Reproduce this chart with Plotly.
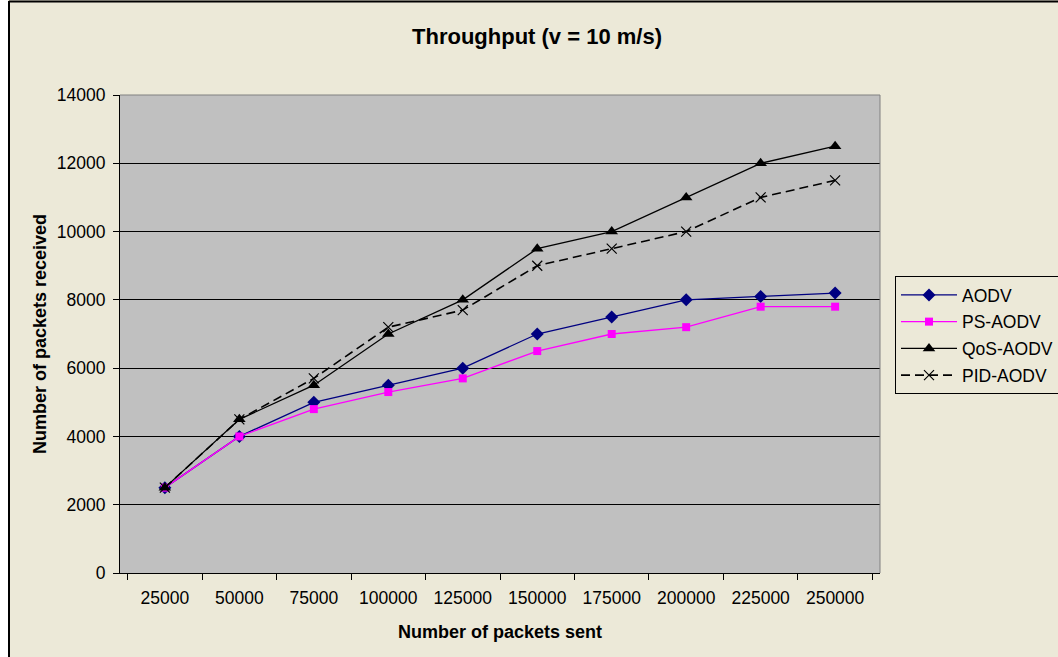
import plotly.graph_objects as go

# Packets sent (category labels on the x axis)
packets_sent = ["25000", "50000", "75000", "100000", "125000",
                "150000", "175000", "200000", "225000", "250000"]

# Packets received per protocol
aodv = [2500, 4000, 5000, 5500, 6000, 7000, 7500, 8000, 8100, 8200]
ps_aodv = [2500, 4000, 4800, 5300, 5700, 6500, 7000, 7200, 7800, 7800]
qos_aodv = [2500, 4500, 5500, 7000, 8000, 9500, 10000, 11000, 12000, 12500]
pid_aodv = [2500, 4500, 5700, 7200, 7700, 9000, 9500, 10000, 11000, 11500]

y_ticks = list(range(0, 14001, 2000))
y_tick_labels = [str(v) for v in y_ticks]

FONT = "Liberation Sans, Arial, sans-serif"
W, H = 1058, 657
ML, MR, MT, MB = 120, 178, 95, 84
PW, PH = W - ML - MR, H - MT - MB


def px_x(px):
    return (px - ML) / PW


def px_y(py):
    return (H - MB - py) / PH


fig = go.Figure()

fig.add_trace(go.Scatter(
    x=packets_sent, y=aodv, name="AODV", mode="lines+markers",
    line=dict(color="#000080", width=1.3),
    marker=dict(symbol="diamond", size=10, color="#000080"),
    legendgroup="a"))
fig.add_trace(go.Scatter(
    x=packets_sent, y=ps_aodv, name="PS-AODV", mode="lines+markers",
    line=dict(color="#FF00FF", width=1.3),
    marker=dict(symbol="square", size=8, color="#FF00FF"),
    legendgroup="b"))
fig.add_trace(go.Scatter(
    x=packets_sent, y=qos_aodv, name="QoS-AODV", mode="lines+markers",
    line=dict(color="#000000", width=1.3),
    marker=dict(symbol="triangle-up", size=11, color="#000000"),
    legendgroup="c"))
fig.add_trace(go.Scatter(
    x=packets_sent, y=pid_aodv, name="PID-AODV", mode="lines+markers",
    line=dict(color="#000000", width=1.6, dash="9px,5px"),
    marker=dict(symbol="x-thin-open", size=10,
                line=dict(color="#000000", width=1.2)),
    legendgroup="d"))

fig.update_layout(
    width=W, height=H,
    margin=dict(l=ML, r=MR, t=MT, b=MB, autoexpand=False),
    paper_bgcolor="#ECE9D8",
    plot_bgcolor="#C0C0C0",
    font=dict(family=FONT, size=17, color="#000000"),
    title=dict(text="<b>Throughput (v = 10 m/s)</b>", x=px_x(537), xref="paper",
               xanchor="center", y=1 - 36 / H, yanchor="middle",
               font=dict(size=22, family=FONT)),
    showlegend=True,
    legend=dict(x=px_x(895), y=px_y(276), xanchor="left", yanchor="top",
                bgcolor="#ECE9D8", bordercolor="#000000", borderwidth=1,
                font=dict(size=17.5, family=FONT), tracegroupgap=1,
                itemwidth=56),
    xaxis=dict(
        type="category", tickson="boundaries", ticks="outside", ticklen=6,
        tickcolor="#000000", showline=True, linecolor="#000000", linewidth=1,
        showgrid=False, tickfont=dict(size=17.5), ticklabelstandoff=9,
        title=dict(text="<b>Number of packets sent</b>",
                   font=dict(size=18), standoff=18),
    ),
    yaxis=dict(
        range=[0, 14000], tickvals=y_ticks, ticktext=y_tick_labels,
        ticks="outside", ticklen=6, ticklabelstandoff=4,
        tickcolor="#000000", showline=True, linecolor="#000000", linewidth=1,
        showgrid=True, gridcolor="#000000", gridwidth=1, zeroline=False,
        tickfont=dict(size=17.5),
        title=dict(text="<b>Number of packets received</b>",
                   font=dict(size=18), standoff=5),
    ),
    shapes=[
        # white strip outside the chart frame
        dict(type="rect", xref="paper", yref="paper",
             x0=px_x(0), x1=px_x(8), y0=px_y(H + 5), y1=px_y(-5),
             fillcolor="#FFFFFF", line=dict(width=0), layer="above"),
        # chart frame (left and top edges)
        dict(type="line", xref="paper", yref="paper",
             x0=px_x(9), x1=px_x(9), y0=px_y(H + 5), y1=px_y(1),
             line=dict(color="#000000", width=2)),
        dict(type="line", xref="paper", yref="paper",
             x0=px_x(9), x1=px_x(W + 5), y0=px_y(1.5), y1=px_y(1.5),
             line=dict(color="#000000", width=2)),
        # plot area border (top and right)
        dict(type="line", xref="paper", yref="paper",
             x0=0, x1=1, y0=1, y1=1, line=dict(color="#808080", width=1)),
        dict(type="line", xref="paper", yref="paper",
             x0=1, x1=1, y0=0, y1=1, line=dict(color="#808080", width=1)),
    ],
)

fig.write_html("out.html")
